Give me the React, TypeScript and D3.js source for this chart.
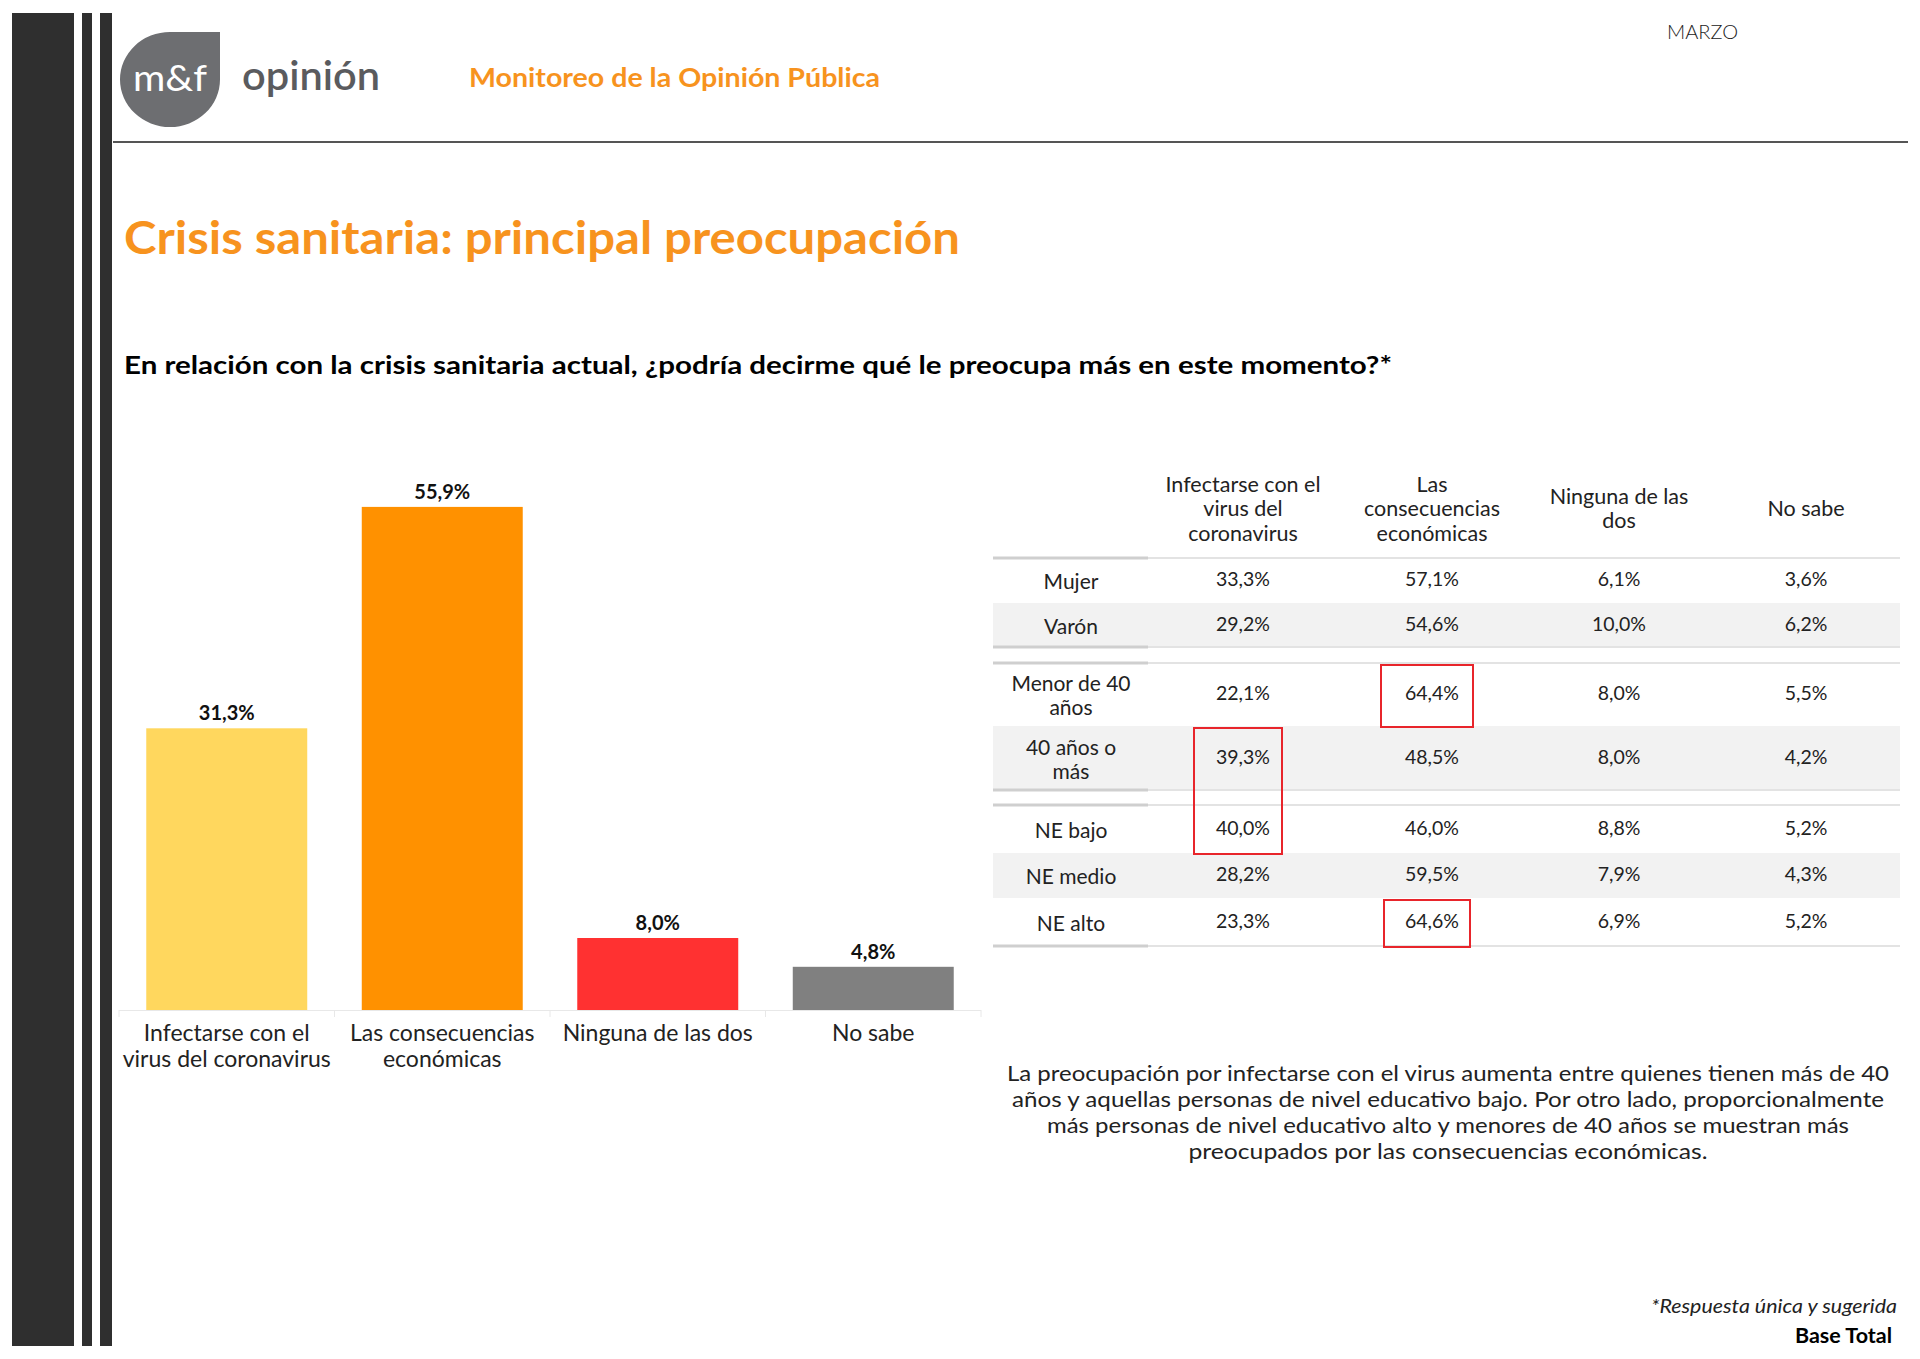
import React from "react";
import * as d3 from "d3";

// ---------- DATA ----------
const categories = [
  "Infectarse con el virus del coronavirus",
  "Las consecuencias económicas",
  "Ninguna de las dos",
  "No sabe",
];
const categoryLabelLines = [
  ["Infectarse con el", "virus del coronavirus"],
  ["Las consecuencias", "económicas"],
  ["Ninguna de las dos"],
  ["No sabe"],
];
const totals = [31.3, 55.9, 8.0, 4.8];

const colHeaders = [
  ["Infectarse con el", "virus del", "coronavirus"],
  ["Las", "consecuencias", "económicas"],
  ["Ninguna de las", "dos"],
  ["No sabe"],
];
const rowLabels = [
  ["Mujer"],
  ["Varón"],
  ["Menor de 40", "años"],
  ["40 años o", "más"],
  ["NE bajo"],
  ["NE medio"],
  ["NE alto"],
];
const infectarse = [33.3, 29.2, 22.1, 39.3, 40.0, 28.2, 23.3];
const consecuencias = [57.1, 54.6, 64.4, 48.5, 46.0, 59.5, 64.6];
const ninguna = [6.1, 10.0, 8.0, 8.0, 8.8, 7.9, 6.9];
const noSabe = [3.6, 6.2, 5.5, 4.2, 5.2, 4.3, 5.2];
const highlights = [
  { col: 1, from: 2, to: 2 },
  { col: 0, from: 3, to: 4 },
  { col: 1, from: 6, to: 6 },
];

const paragraphLines = [
  "La preocupación por infectarse con el virus aumenta entre quienes tienen más de 40",
  "años y aquellas personas de nivel educativo bajo. Por otro lado, proporcionalmente",
  "más personas de nivel educativo alto y menores de 40 años se muestran más",
  "preocupados por las consecuencias económicas.",
];

// ---------- STYLE / LAYOUT ----------
const W = 1920;
const H = 1359;
const FONT = "Lato, 'Open Sans', sans-serif";
const ORANGE = "#F7931E";
const barColors = ["#FFD75E", "#FF9100", "#FF3131", "#808080"];
const TEXT = "#222";
const paragraphWidths = [882, 872, 802, 519];
const highlightWidths = [92, 88, 86];

// table layout (row groups with gaps)
const rowHeights = [45, 44, 63, 64, 48, 45, 48];
const groupGapAfter = [0, 16, 0, 15, 0, 0, 0];
const tableTop = 558;
const tableLeft = 993;
const tableRight = 1900;
const labelColRight = 1148;
const colCenters = [1243, 1432, 1619, 1806];
const labelCenter = 1071;

const fmt = (v: number) => d3.format(".1f")(v).replace(".", ",") + "%";

export default function App() {
  // bar chart scales
  const x = d3
    .scaleBand<string>()
    .domain(categories)
    .range([119, 981])
    .paddingInner(0.253)
    .paddingOuter(0.1265);
  const y = d3.scaleLinear().domain([0, 60]).range([1010, 470]);

  // table rows
  const tableCols = [infectarse, consecuencias, ninguna, noSabe];
  const rows: { top: number; bottom: number }[] = [];
  let cy = tableTop;
  rowHeights.forEach((h, i) => {
    rows.push({ top: cy, bottom: cy + h });
    cy += h + groupGapAfter[i];
  });
  const groupStarts = [0, 2, 4];
  const groupEnds = [1, 3, 6];

  return (
    <svg width={W} height={H} style={{ display: "block", position: "absolute", left: 0, top: 0 }} fontFamily={FONT}>
      <rect width={W} height={H} fill="#fff" />
      {/* side stripes */}
      <rect x={12} y={13} width={62} height={1333} fill="#2f2f2f" />
      <rect x={82} y={13} width={10} height={1333} fill="#2f2f2f" />
      <rect x={100} y={13} width={12} height={1333} fill="#2f2f2f" />

      {/* header */}
      <path
        d="M170,32 L220,32 L220,79.5 A50,47.5 0 0 1 170,127 A50,47.5 0 0 1 120,79.5 A50,47.5 0 0 1 170,32 Z"
        fill="#6d6e71"
      />
      <text x={170} y={91} textAnchor="middle" fill="#fff" fontSize={36} fontFamily={FONT} textLength={74} lengthAdjust="spacingAndGlyphs">
        m&amp;f
      </text>
      <text x={242} y={90} fill="#5a5b5e" fontSize={40} fontWeight={600} textLength={138} lengthAdjust="spacingAndGlyphs">
        opinión
      </text>
      <text x={469} y={87} fill={ORANGE} fontSize={26} fontWeight={700} textLength={411} lengthAdjust="spacingAndGlyphs">
        Monitoreo de la Opinión Pública
      </text>
      <text x={1667} y={39} fill="#222" fontSize={19} fontWeight={300} textLength={71} lengthAdjust="spacingAndGlyphs">
        MARZO
      </text>
      <line x1={113} x2={1908} y1={142} y2={142} stroke="#555" strokeWidth={2} />

      {/* title + question */}
      <text x={124} y={254} fill={ORANGE} fontSize={46} fontWeight={700} textLength={836} lengthAdjust="spacingAndGlyphs">
        Crisis sanitaria: principal preocupación
      </text>
      <text x={124} y={374} fill="#000" fontSize={24} fontWeight={700} textLength={1268} lengthAdjust="spacingAndGlyphs">
        En relación con la crisis sanitaria actual, ¿podría decirme qué le preocupa más en este momento?*
      </text>

      {/* bar chart */}
      <line x1={119} x2={981} y1={y(0) + 0.5} y2={y(0) + 0.5} stroke="#e8e8e8" strokeWidth={1} />
      {[0, 1, 2, 3, 4].map((i) => {
        const xx = 119 + x.step() * i;
        return <line key={"t" + i} x1={xx} x2={xx} y1={y(0)} y2={y(0) + 7} stroke="#e8e8e8" />;
      })}
      {categories.map((c, i) => (
        <g key={c}>
          <rect x={x(c)} y={y(totals[i])} width={x.bandwidth()} height={y(0) - y(totals[i])} fill={barColors[i]} />
          <text
            x={(x(c) as number) + x.bandwidth() / 2}
            y={y(totals[i]) - 8}
            textAnchor="middle"
            fontSize={20}
            fontWeight={700}
            fill="#111"
          >
            {fmt(totals[i])}
          </text>
          {categoryLabelLines[i].map((ln, j) => (
            <text
              key={j}
              x={(x(c) as number) + x.bandwidth() / 2}
              y={1041 + j * 26}
              textAnchor="middle"
              fontSize={23}
              fill={TEXT}
            >
              {ln}
            </text>
          ))}
        </g>
      ))}

      {/* table */}
      {rows.map((r, i) =>
        i === 1 || i === 3 || i === 5 ? (
          <rect key={"bg" + i} x={tableLeft} y={r.top} width={tableRight - tableLeft} height={r.bottom - r.top} fill="#f2f2f2" />
        ) : null
      )}
      {groupStarts.map((s, gi) => (
        <g key={"gl" + gi}>
          <line x1={tableLeft} x2={tableRight} y1={rows[s].top} y2={rows[s].top} stroke="#e3e3e3" strokeWidth={2} />
          <line x1={tableLeft} x2={labelColRight} y1={rows[s].top} y2={rows[s].top} stroke="#cfcfcf" strokeWidth={3} />
          <line x1={tableLeft} x2={tableRight} y1={rows[groupEnds[gi]].bottom} y2={rows[groupEnds[gi]].bottom} stroke="#e3e3e3" strokeWidth={2} />
          <line x1={tableLeft} x2={labelColRight} y1={rows[groupEnds[gi]].bottom} y2={rows[groupEnds[gi]].bottom} stroke="#cfcfcf" strokeWidth={3} />
        </g>
      ))}
      {colHeaders.map((lines, ci) => {
        const n = lines.length;
        const start = 508 - ((n - 1) * 24.5) / 2;
        return lines.map((ln, j) => (
          <text
            key={"h" + ci + j}
            x={colCenters[ci]}
            y={start + j * 24.5}
            dominantBaseline="central"
            textAnchor="middle"
            fontSize={21.5}
            fill={TEXT}
          >
            {ln}
          </text>
        ));
      })}
      {rows.map((r, ri) => {
        const mid = (r.top + r.bottom) / 2;
        const lines = rowLabels[ri];
        const start = mid - ((lines.length - 1) * 24) / 2;
        return (
          <g key={"r" + ri}>
            {lines.map((ln, j) => (
              <text
                key={j}
                x={labelCenter}
                y={start + j * 24}
                dominantBaseline="central"
                textAnchor="middle"
                fontSize={21}
                fill={TEXT}
              >
                {ln}
              </text>
            ))}
            {tableCols.map((col, ci) => (
              <text
                key={"v" + ci}
                x={colCenters[ci]}
                y={mid - 2}
                dominantBaseline="central"
                textAnchor="middle"
                fontSize={19.5}
                fill={TEXT}
              >
                {fmt(col[ri])}
              </text>
            ))}
          </g>
        );
      })}
      {highlights.map((h, i) => {
        const bw = highlightWidths[i];
        return (
          <rect
            key={"hl" + i}
            x={colCenters[h.col] - bw / 2 - 5}
            y={rows[h.from].top + 2}
            width={bw}
            height={rows[h.to].bottom - rows[h.from].top - 1}
            fill="none"
            stroke="#E8252B"
            strokeWidth={2}
          />
        );
      })}

      {/* paragraph */}
      {paragraphLines.map((ln, i) => (
        <text
          key={"p" + i}
          x={1448}
          y={1081 + i * 26}
          textAnchor="middle"
          fontSize={22}
          fill={TEXT}
          textLength={paragraphWidths[i]}
          lengthAdjust="spacingAndGlyphs"
        >
          {ln}
        </text>
      ))}

      {/* footer */}
      <text x={1897} y={1313} textAnchor="end" fontSize={20} fontStyle="italic" fill={TEXT} textLength={246} lengthAdjust="spacingAndGlyphs">
        *Respuesta única y sugerida
      </text>
      <text x={1892} y={1343} textAnchor="end" fontSize={21} fontWeight={700} fill="#000" textLength={97} lengthAdjust="spacingAndGlyphs">
        Base Total
      </text>
    </svg>
  );
}
